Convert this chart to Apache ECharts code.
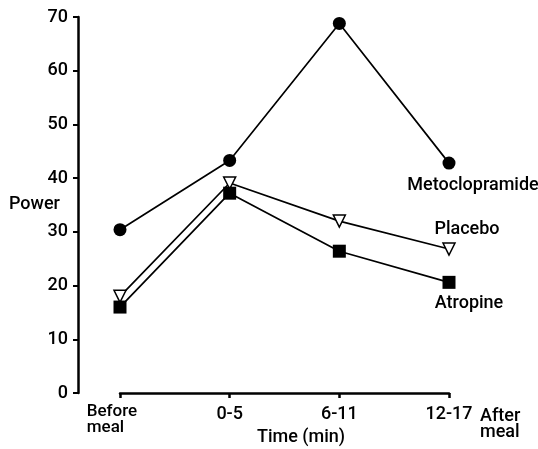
<!DOCTYPE html>
<html>
<head>
<meta charset="utf-8">
<script src="https://cdn.jsdelivr.net/npm/echarts@6/dist/echarts.min.js"></script>
<style>
  html, body { margin: 0; padding: 0; background: #fff; }
  #chart { width: 538px; height: 449px; }
</style>
</head>
<body>
<div id="chart"></div>
<script>
// time points (x categories)
var categories = ["Before\nmeal", "0-5", "6-11", "12-17"];
// power values
var metoclopramide = [30.4, 43.3, 68.8, 42.8];
var placebo = [18.0, 39.1, 32.0, 26.8];
var atropine = [16.0, 37.2, 26.4, 20.6];
var yTicks = [0, 10, 20, 30, 40, 50, 60, 70];

var font = "Roboto, 'Liberation Sans', sans-serif";
var weight = 500;

// put a label on the last point only
function withEndLabel(values, text, pos, offset) {
  return values.map(function (v, i) {
    if (i !== values.length - 1) return v;
    return {
      value: v,
      label: {
        show: true,
        position: pos,
        offset: offset,
        formatter: text,
        color: "#000",
        fontFamily: font,
        fontSize: 18,
        fontWeight: weight
      }
    };
  });
}

var chart = echarts.init(document.getElementById("chart"));

var option = {
  animation: false,
  backgroundColor: "#fff",
  grid: [
    // y axis only
    { left: 78, top: 17, bottom: 56, width: 1 },
    // data area, x axis starts later
    { left: 120, right: 89, top: 17, bottom: 56 }
  ],
  xAxis: [
    { gridIndex: 0, type: "value", show: false },
    {
      gridIndex: 1,
      type: "category",
      boundaryGap: false,
      data: categories,
      axisLine: { lineStyle: { color: "#000", width: 2.5 } },
      axisTick: { alignWithLabel: true, length: 5, lineStyle: { color: "#000", width: 2.5 } },
      axisLabel: {
        color: "#000",
        fontFamily: font,
        fontSize: 17,
        fontWeight: weight,
        lineHeight: 16,
        margin: 11,
        interval: 0,
        formatter: function (v, i) {
          if (i === 0) return v.split("\n").map(function (s) { return "{b|" + s + "}"; }).join("\n");
          return "{n|" + v + "}";
        },
        rich: {
          b: { fontFamily: font, fontSize: 17, fontWeight: weight, lineHeight: 16, align: "left", padding: [0, 16, 0, 0] },
          n: { fontFamily: font, fontSize: 18, fontWeight: weight, lineHeight: 16, padding: [4, 0, 0, 0] }
        }
      },
      splitLine: { show: false }
    }
  ],
  yAxis: [
    {
      gridIndex: 0,
      type: "value",
      min: 0,
      max: 70,
      interval: 10,
      axisLine: { show: true, lineStyle: { color: "#000", width: 2.5 } },
      axisTick: { show: true, length: 5, lineStyle: { color: "#000", width: 2 } },
      axisLabel: {
        color: "#000",
        fontFamily: font,
        fontSize: 18,
        fontWeight: weight,
        margin: 10,
        formatter: function (v) { return yTicks.indexOf(v) >= 0 ? String(v) : ""; }
      },
      splitLine: { show: false }
    },
    { gridIndex: 1, type: "value", min: 0, max: 70, show: false }
  ],
  series: [
    {
      name: "Metoclopramide",
      type: "line",
      xAxisIndex: 1,
      yAxisIndex: 1,
      data: withEndLabel(metoclopramide, "Metoclopramide", "bottom", [24, 2]),
      symbol: "circle",
      symbolSize: 13,
      itemStyle: { color: "#000" },
      lineStyle: { color: "#000", width: 1.7 },
      z: 3
    },
    {
      name: "Placebo",
      type: "line",
      xAxisIndex: 1,
      yAxisIndex: 1,
      data: withEndLabel(placebo, "Placebo", "top", [18, 1]),
      symbol: "triangle",
      symbolRotate: 180,
      symbolSize: 12,
      itemStyle: { color: "#fff", borderColor: "#000", borderWidth: 1.5 },
      lineStyle: { color: "#000", width: 1.7 },
      z: 4
    },
    {
      name: "Atropine",
      type: "line",
      xAxisIndex: 1,
      yAxisIndex: 1,
      data: withEndLabel(atropine, "Atropine", "bottom", [20, 1]),
      symbol: "rect",
      symbolSize: 13,
      itemStyle: { color: "#000" },
      lineStyle: { color: "#000", width: 1.7 },
      z: 5
    }
  ],
  graphic: [
    {
      type: "text",
      left: 9,
      top: 195,
      style: { text: "Power", fill: "#000", font: weight + " 18px " + font }
    },
    {
      type: "text",
      left: 257,
      top: 428,
      style: { text: "Time (min)", fill: "#000", font: weight + " 18px " + font }
    },
    {
      type: "text",
      left: 480,
      top: 407,
      style: { text: "After\nmeal", fill: "#000", font: weight + " 18px " + font, lineHeight: 16 }
    }
  ]
};

chart.setOption(option);
</script>
</body>
</html>
